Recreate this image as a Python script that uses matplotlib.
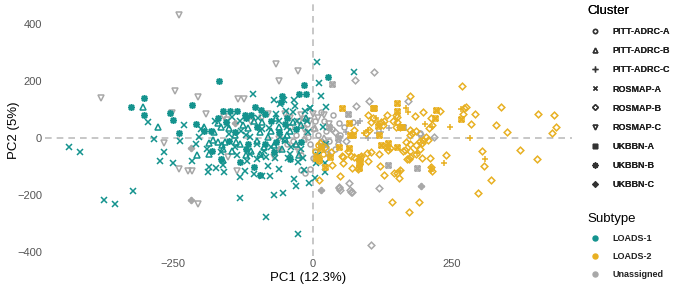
import numpy as np
import matplotlib
matplotlib.use("Agg")
import matplotlib.pyplot as plt
from matplotlib.path import Path
from matplotlib.lines import Line2D

plt.rcParams['font.family'] = ['Liberation Sans', 'DejaVu Sans']

# subtype codes: 1 = LOADS-1, 2 = LOADS-2, 0 = Unassigned
subtypes = ['LOADS-1', 'LOADS-2', 'Unassigned']
clusters = ['PITT-ADRC-A', 'PITT-ADRC-B', 'PITT-ADRC-C', 'ROSMAP-A', 'ROSMAP-B',
            'ROSMAP-C', 'UKBBN-A', 'UKBBN-B', 'UKBBN-C']

# PITT-ADRC-A (open circle)
pitt_a_x = [36, 72, 57, 48, 193, -20, -14, -5, -10, 0, 10, 20, -30, -45, 30, 40, 5, -20, 15, -5, 50, 25, -40, -25,
            5, 15, -15, 35, 45, -35, 25, 0, -8,
            10, 5, 18, 12]
pitt_a_y = [82, 57, 37, 51, 16, -112, -121, -109, 50, 30, 10, 60, 10, -20, -10, -40, -50, -60, 90, -20, 10, 25, 40, -45,
            60, -10, 70, 30, -20, -10, -40, -70, 5,
            -25, -45, -55, -80]
pitt_a_s = [0] * 33 + [2] * 4

# PITT-ADRC-B (open triangle)
pitt_b_x = [-304, -277, -207, -170, -164, -176, -179, -185, -170, -163, -157, -161, -140, -130, -115, -100, -90, -80,
            -70, -60, -50, -40, -30, -20, -125, -110, -145, -95, -65, -35,
            -195, -185, -150, -138, -120, -105, -88, -75, -55, -45, -25, -12, -160, -95,
            -10, 5, 20, -15]
pitt_b_y = [110, 40, -61, 51, 40, 22, -7, -19, -15, -26, -15, -77, 10, -20, 35, -10, 55, 5, -25, 40, -5, 25, -20, 45,
            45, -45, -45, 20, 70, 55,
            40, -55, 35, -15, -60, 60, -30, 25, -40, 10, -60, 70, -40, -55,
            20, 35, 0, -5]
pitt_b_s = [1] * 44 + [0] * 4

# PITT-ADRC-C (plus)
pitt_c_x = [247, 267, 168, 171, 201, 283, 310, 236, 187, 213, 213, 157, 114, 117, 93, 99, 214, 215,
            86, 81, 115, 123, 137, 60, 100]
pitt_c_y = [40, 101, 107, 92, 48, -1, -75, -87, -54, -102, -114, -115, 69, 57, 17, 29, 37, -110,
            60, 51, 16, 22, 34, 20, 0]
pitt_c_s = [2] * 18 + [0] * 7

# ROSMAP-A (x)
ros_a_x = [-437, -418, -374, -354, -323, -295, -285, -266, -273, -250, -237, -230, -216, -203, -188, -173, -186, -160,
           -153, -131, -131, -122, -107, -105, -91, -77, -84, -69, -53, -34, -29, -27, -7, 4, -61, -80, -27, -15, 7, 23,
           22, -44, -83, -93, -113, -70, -59, -52, -34, -31, -35, -4, 25, 16, 12, 8, 74, -5, -13,
           -60, -45, -90, -120, -140, -100, -75, -50, -20, 10, 18, 25, -10, -130, -65, -40, 15,
           -200, -190, -175, -165, -150, -145, -135, -128, -118, -112, -98, -88, -78, -68, -58, -48, -38, -28, -18, -8,
           -210, -158, -100]
ros_a_y = [-33, -50, -217, -230, -185, 55, -3, -50, -79, -87, -10, 44, -80, 5, -119, -104, -100, -96,
           45, -135, -211, -114, 154, -127, -133, -133, -277, -200, -192, -143, -167, -335, -156, -139, -107, -97, -85,
           -113, -88, -118, -88, -71, -65, -62, -57, 135, 119, 135, 133, 112, 92, 107, 108, 146, 192, 267, 232, 104, 94,
           60, 40, 30, 10, -30, -20, -30, -10, -40, -60, 40, -20, 60, 60, 85, -55, -30,
           30, -40, 60, -50, 15, 75, -60, 25, -80, 5, 70, -45, 35, -70, 5, 95, -30, 60, -70, 20,
           -20, -120, -75]
ros_a_s = [1] * len(ros_a_x)

# ROSMAP-B (open diamond)
ros_b_x = [99, 175, 184, 199, 228, 213, 209, 215, 151, 150, 157, 175, 185, 178, 269, 339, 404, 434, 436, 429, 292, 285,
           329, 348, 276, 272, 270, 304, 307, 320, 296, 373, 402, 239, 197, 211, 191, 173, 163, 170, 173, 152, 155, 197,
           204, 175, 167, 175, 11, 35, 50, 128, 142, 81, 54, 63, 75, 84, 87, 98, 105, 120, 135, 139, 13, 22, 33, 53, 54,
           69, 71, 99, 121, 147, 156, 166, 174, 174, 185, 193, 207, 186, 215, 213, 133, 129, 150, 144, 151, 126, 123,
           104, 109, 74, 95, 102, 198, 193,
           110, 77, 78, 102, 172, 217, 192, 119, 104, 47, 50, 67, 71, 66, 48, 69, 20, 40, 60]
ros_b_y = [80, 146, 77, 93, 95, 69, 35, 44, 75, 40, 37, 28, 26, 16, 182, 108, 86, 82, 37, 19, 85, 48,
           45, 22, 109, 104, 85, -44, -98, -147, -192, -42, -75, -59, -71, -71, -223, -259, -45, -73, -73, -123, -141,
           -19, 5, 10, -15, -21, -147, -94, -132, -129, -223, -110, -65, -44, -65, -77, -63, -54, -48, -56, -42, -36,
           -19, -30, -48, -62, -89, -62, -104, -80, -97, -121, -112, -42, -44, -65, -24, -40, -7, -56, -115, -100, 80,
           60, 80, 60, 57, 45, 55, 56, 69, 28, 16, 28, -7, -9,
           230, 203, 112, 130, 130, 2, 13, -176, -374, -172, -184, -184, -191, -158, -176, -188, -20, 20, -10]
ros_b_s = [2] * 98 + [0] * 19

# ROSMAP-C (open down triangle)
ros_c_x = [-240, -379, -246, -206, -252, -191, -267, -240, -224, -216, -205, -65, -27, -61, -133, -123, -159, -154,
           -152, -136, -40, -20, -5, -80, -110, -60, -30, 10, -15, 30, -50, -25, 0, 20, -90, -70]
ros_c_y = [430, 139, 165, 143, 88, 85, -16, -109, -114, -115, -233, 260, 234, 200, 137, 137, 75, 65,
           -65, -114, 70, 80, 60, 85, 55, -5, -30, 70, 30, 50, 85, 55, 85, 80, 70, -65]
ros_c_s = [0] * len(ros_c_x)

# UKBBN-A (square with cross)
ukb_a_x = [53, 110, 151, 222, 219, 267, 66, 119, 118, 67, 73, 152, 156, 160, 151, 133, 48, 66, 86, 83, 8, 11, 22, 83,
           86, 32, 16, 7, 123, 135, 109,
           34, 63, 162, 187, 135, 30, 45]
ukb_a_y = [107, 104, 123, 98, 69, 66, 54, 10, 42, 11, 10, 94, 40, 40, -30, -30, -30, -36, -65, -86, -65, -77, -100,
           -106, -85, -68, -36, -71, -24, -16, 107,
           189, 86, 37, -106, -94, 40, 0]
ukb_a_s = [2] * 31 + [0] * 7

# UKBBN-B (asterisk)
ukb_b_x = [-302, -325, -303, -217, -167, -255, -251, -240, -194, -183, -165, -161, -149, -104, -93, -122, -110, -119,
           -105, -95, -54, -57, -25, -16, -11, 28,
           -140, -100, -75, -60, -85, -45, -120, -30, -150, -70,
           -210, -180, -155, -135, -115, -85, -65, -50, -40, -20, -170, -130]
ukb_b_y = [141, 110, 82, 115, 199, 88, 65, 16, 24, 24, -75, 94, 94, 110, 100, 80, 80, 72,
           -100, -130, 147, 127, 154, 186, 156, 213,
           20, 40, 60, 20, -20, 70, -40, 30, -10, -50,
           50, -45, 55, 95, -20, 85, -15, 50, -75, -15, 70, -85]
ukb_b_s = [1] * len(ukb_b_x)

# UKBBN-C (diamond with cross)
ukb_c_x = [-218, -218, -140, 15, 195, -60, 30]
ukb_c_y = [-34, -217, 51, -183, -168, -40, -60]
ukb_c_s = [0] * len(ukb_c_x)

# custom ggplot-like shapes
sq_cross = Path([(-1, -1), (1, -1), (1, 1), (-1, 1), (-1, -1), (-1, -1), (1, 1), (-1, 1), (1, -1)],
                [Path.MOVETO, Path.LINETO, Path.LINETO, Path.LINETO, Path.CLOSEPOLY,
                 Path.MOVETO, Path.LINETO, Path.MOVETO, Path.LINETO])
dia_plus = Path([(0, -1), (1, 0), (0, 1), (-1, 0), (0, -1), (0, -1), (0, 1), (-1, 0), (1, 0)],
                [Path.MOVETO, Path.LINETO, Path.LINETO, Path.LINETO, Path.CLOSEPOLY,
                 Path.MOVETO, Path.LINETO, Path.MOVETO, Path.LINETO])

markers = ['o', '^', '+', 'x', 'D', 'v', sq_cross, (8, 2, 0), dia_plus]
msizes = [3.6, 4.0, 5.0, 4.0, 3.4, 4.0, 3.6, 5.0, 4.4]
colors = {1: '#14938E', 2: '#E8B022', 0: '#A8A8A8'}

data = [(pitt_a_x, pitt_a_y, pitt_a_s), (pitt_b_x, pitt_b_y, pitt_b_s), (pitt_c_x, pitt_c_y, pitt_c_s),
        (ros_a_x, ros_a_y, ros_a_s), (ros_b_x, ros_b_y, ros_b_s), (ros_c_x, ros_c_y, ros_c_s),
        (ukb_a_x, ukb_a_y, ukb_a_s), (ukb_b_x, ukb_b_y, ukb_b_s), (ukb_c_x, ukb_c_y, ukb_c_s)]

fig = plt.figure(figsize=(6.77, 2.89), dpi=100)
ax = fig.add_axes([0.0665, 0.114, 0.778, 0.872])

ax.axhline(0, color='#BDBDBD', ls=(0, (4, 3)), lw=1.2, zorder=0)
ax.axvline(0, color='#BDBDBD', ls=(0, (4, 3)), lw=1.2, zorder=0)

for code in [0, 1, 2]:
    for i, (xs, ys, ss) in enumerate(data):
        xs = np.array(xs)
        ys = np.array(ys)
        m = np.array(ss) == code
        if m.sum() == 0:
            continue
        ax.plot(xs[m], ys[m], ls='none', marker=markers[i], ms=msizes[i],
                mfc='none', mec=colors[code], mew=1.1)

ax.set_xlim(-480, 465)
ax.set_ylim(-414, 470)
ax.set_xticks([-250, 0, 250])
ax.set_yticks([-400, -200, 0, 200, 400])
ax.set_yticklabels(['\u2212400', '\u2212200', '0', '200', '400'])
ax.set_xticklabels(['\u2212250', '0', '250'])
ax.tick_params(length=0, labelsize=8, labelcolor='#555555', pad=2)
for sp in ax.spines.values():
    sp.set_visible(False)
ax.set_xlabel('PC1 (12.3%)', fontsize=9.5, labelpad=2)
ax.set_ylabel('PC2 (5%)', fontsize=9.5)
ax.yaxis.set_label_coords(-0.047, 0.5)

# legends
h1 = [Line2D([], [], ls='none', marker=markers[i], ms=msizes[i] * 0.85, mfc='none', mec='#333333', mew=1.0)
      for i in range(len(clusters))]
leg1 = fig.legend(h1, clusters, loc='upper left', bbox_to_anchor=(0.862, 0.995), frameon=False,
                  title='Cluster', title_fontsize=9.5, fontsize=6.5, handletextpad=1.0,
                  labelspacing=1.12, borderaxespad=0, alignment='left', handlelength=1.8)
for t in leg1.get_texts():
    t.set_fontweight('bold')
    t.set_color('#222222')

h2 = [Line2D([], [], ls='none', marker='o', ms=3.6, mfc=colors[c], mec=colors[c]) for c in [1, 2, 0]]
leg2 = fig.legend(h2, subtypes, loc='upper left', bbox_to_anchor=(0.862, 0.277), frameon=False,
                  title='Subtype', title_fontsize=9.5, fontsize=6.5, handletextpad=1.0,
                  labelspacing=1.02, borderaxespad=0, alignment='left', handlelength=1.8)
for t in leg2.get_texts():
    t.set_fontweight('bold')
    t.set_color('#222222')
fig.add_artist(leg1)

fig.savefig('out.png', dpi=100)
